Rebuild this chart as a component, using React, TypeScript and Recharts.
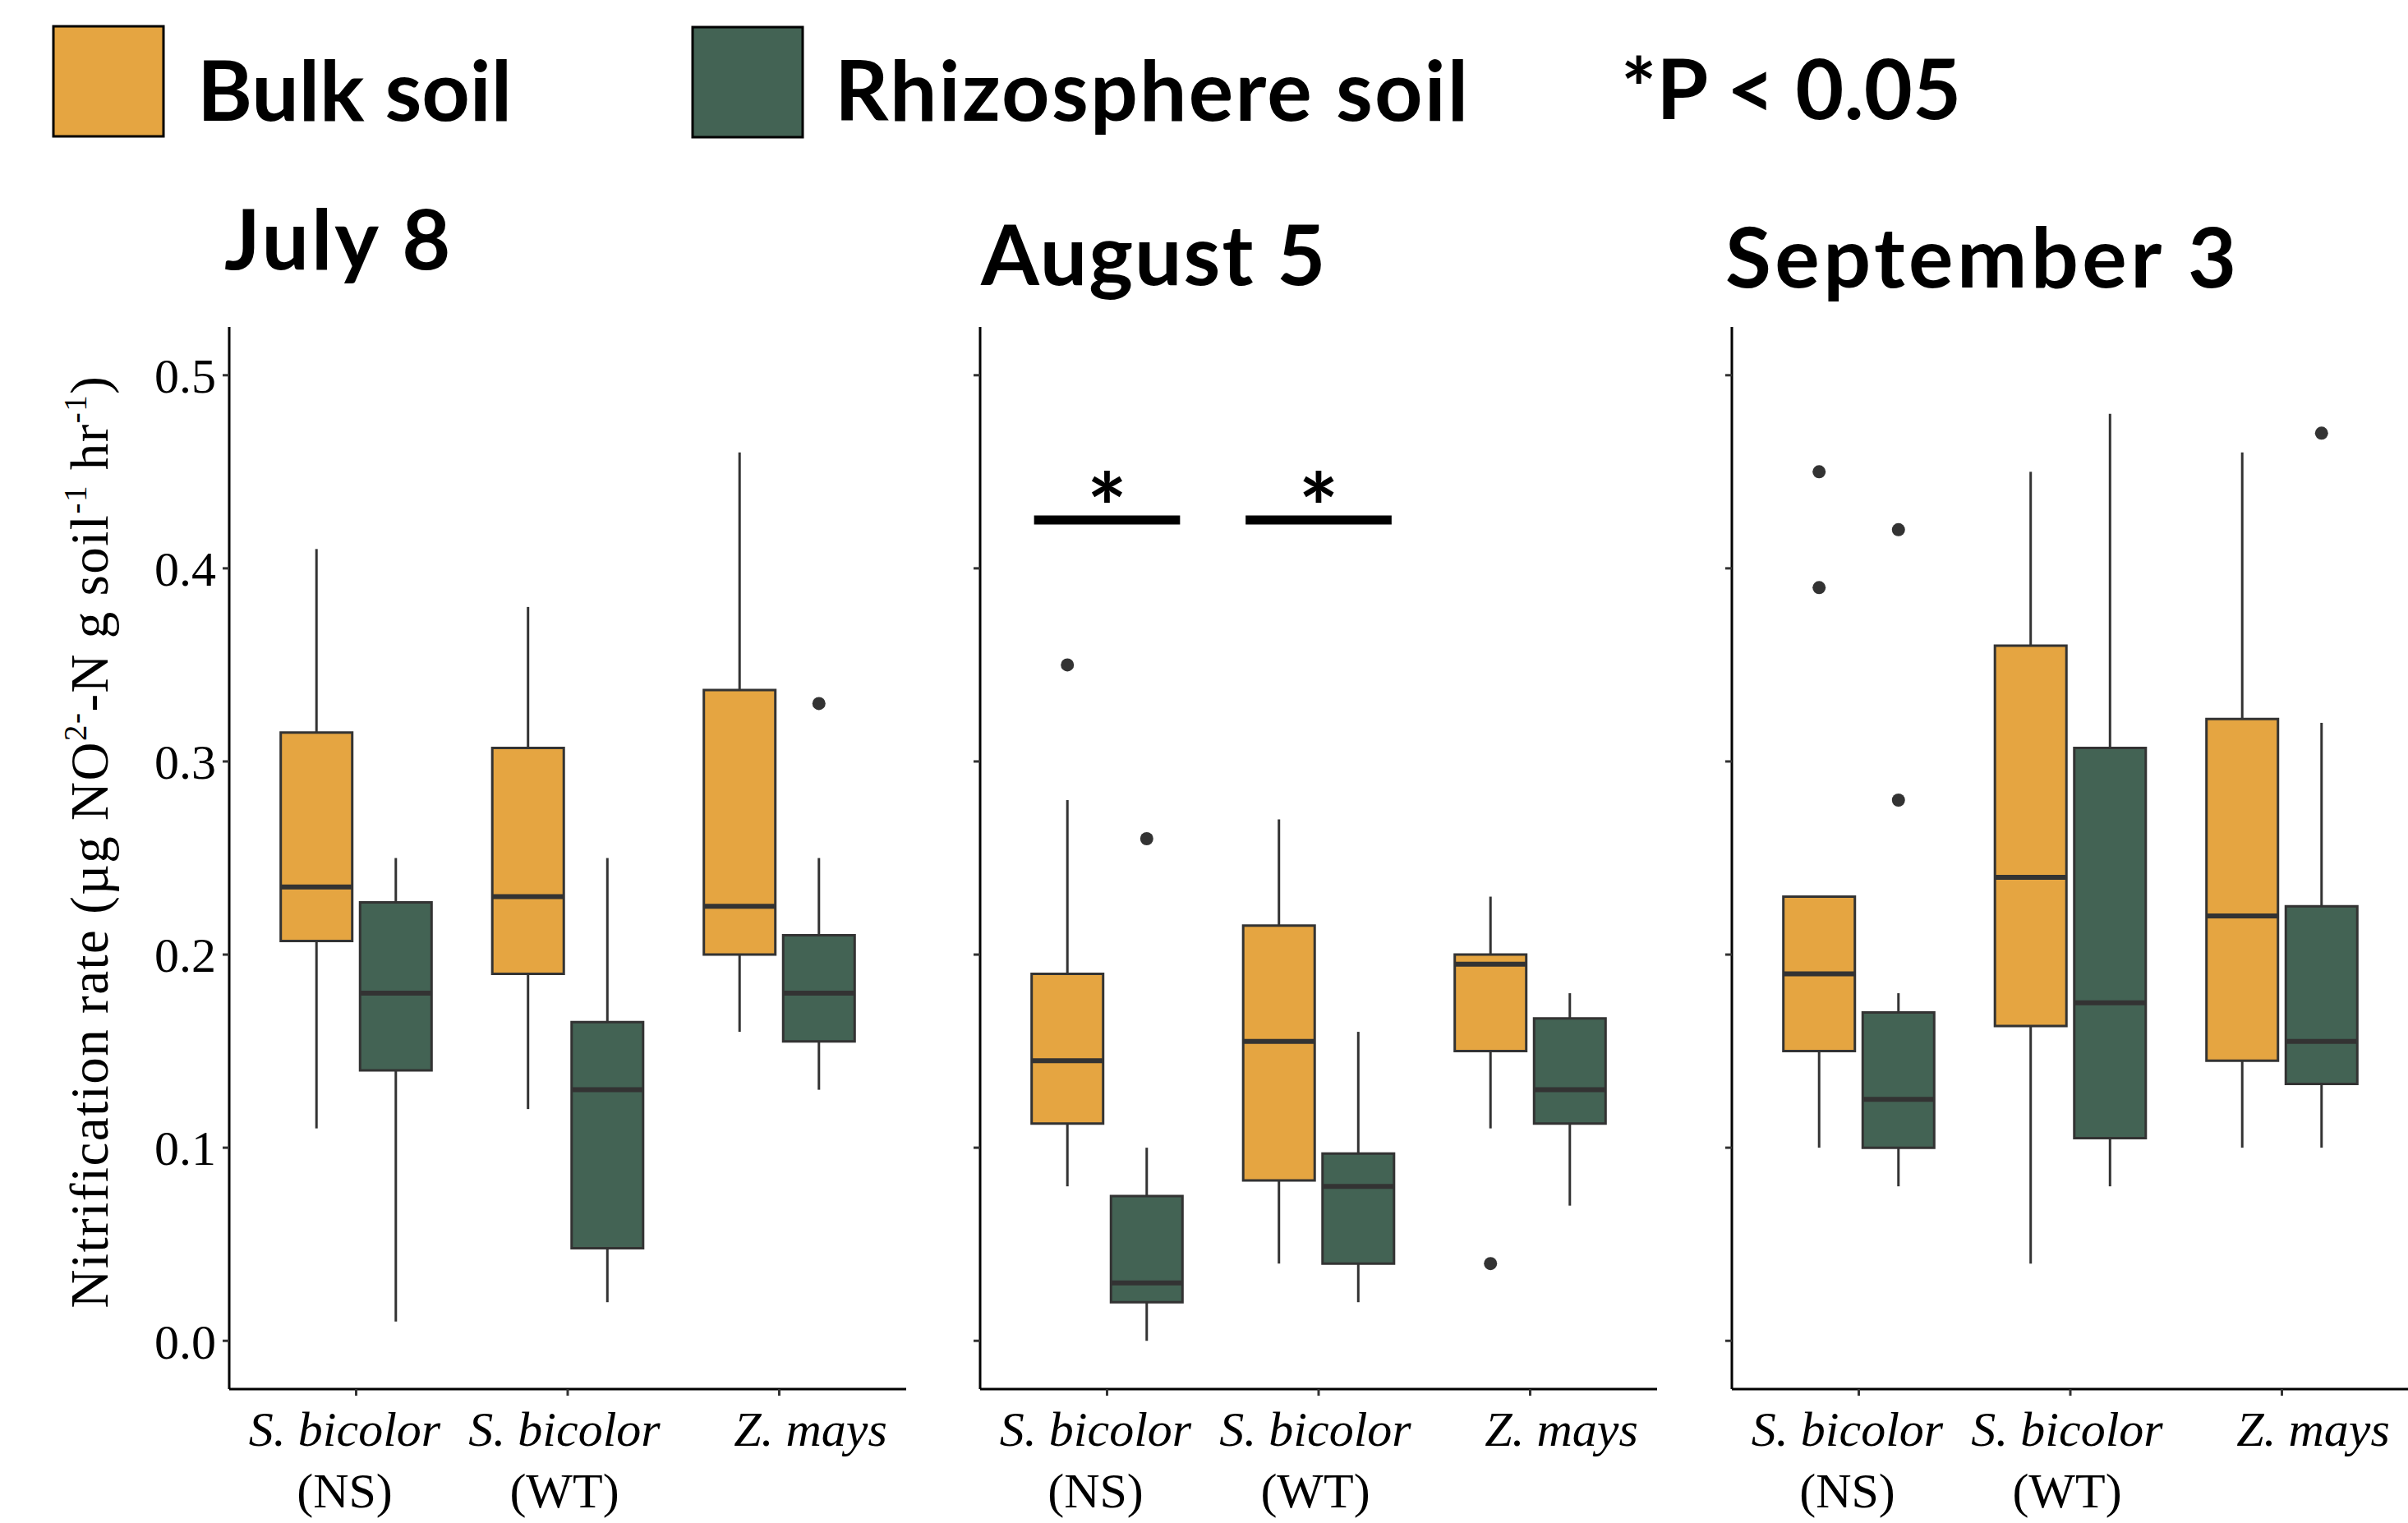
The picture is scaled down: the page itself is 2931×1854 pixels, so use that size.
import React from "react";
import { ComposedChart, XAxis, YAxis, ReferenceArea, ReferenceLine, Scatter } from "recharts";

const dates = ["July 8", "August 5", "September 3"];
const soils = ["Bulk soil", "Rhizosphere soil"];
const speciesNames = ["S. bicolor", "S. bicolor", "Z. mays"];
const genotypeTags = ["(NS)", "(WT)", ""];
const yTicks = [0, 0.1, 0.2, 0.3, 0.4, 0.5];
const genotypeTicks = [1, 2, 3];

// [lower whisker, Q1, median, Q3, upper whisker], one row per genotype
const julyBulk = [
  [0.11, 0.207, 0.235, 0.315, 0.41],
  [0.12, 0.19, 0.23, 0.307, 0.38],
  [0.16, 0.2, 0.225, 0.337, 0.46],
];
const julyRhizo = [
  [0.01, 0.14, 0.18, 0.227, 0.25],
  [0.02, 0.048, 0.13, 0.165, 0.25],
  [0.13, 0.155, 0.18, 0.21, 0.25],
];
const augustBulk = [
  [0.08, 0.1125, 0.145, 0.19, 0.28],
  [0.04, 0.083, 0.155, 0.215, 0.27],
  [0.11, 0.15, 0.195, 0.2, 0.23],
];
const augustRhizo = [
  [0.0, 0.02, 0.03, 0.075, 0.1],
  [0.02, 0.04, 0.08, 0.097, 0.16],
  [0.07, 0.1125, 0.13, 0.167, 0.18],
];
const septemberBulk = [
  [0.1, 0.15, 0.19, 0.23, 0.23],
  [0.04, 0.163, 0.24, 0.36, 0.45],
  [0.1, 0.145, 0.22, 0.322, 0.46],
];
const septemberRhizo = [
  [0.08, 0.1, 0.125, 0.17, 0.18],
  [0.08, 0.105, 0.175, 0.307, 0.48],
  [0.1, 0.133, 0.155, 0.225, 0.32],
];

// outlying points per genotype
const julyBulkOut = [[], [], []];
const julyRhizoOut = [[], [], [0.33]];
const augustBulkOut = [[0.35], [], [0.04]];
const augustRhizoOut = [[0.26], [], []];
const septemberBulkOut = [[0.45, 0.39], [], []];
const septemberRhizoOut = [[0.42, 0.28], [], [0.47]];

// genotypes with P < 0.05 between soils, and bar height
const augustSignificant = [1, 2];
const sigHeight = 0.425;

const panels = [
  { title: dates[0], bulk: julyBulk, rhizo: julyRhizo, bulkOut: julyBulkOut, rhizoOut: julyRhizoOut, sig: [] as number[] },
  { title: dates[1], bulk: augustBulk, rhizo: augustRhizo, bulkOut: augustBulkOut, rhizoOut: augustRhizoOut, sig: augustSignificant },
  { title: dates[2], bulk: septemberBulk, rhizo: septemberRhizo, bulkOut: septemberBulkOut, rhizoOut: septemberRhizoOut, sig: [] as number[] },
];

const FILLS = ["#E5A541", "#436354"];
const INK = "#333333";
const DODGE = 0.1875;
const HALF = 0.169;
const SERIF = "'Liberation Serif', 'Times New Roman', serif";
const BOLD = "Lato, 'Noto Sans', sans-serif";

const PLOT_W = 824;
const PLOT_H = 1293;
const TOP = 378;
const MARGIN_TOP = 20;
const XAXIS_H = 163;
const labelShift = [-14, -4, 38];

function GenotypeTick(props: any) {
  const { x, y, payload } = props;
  const i = genotypeTicks.indexOf(payload.value);
  if (i < 0) return <g />;
  return (
    <g>
      <text x={x + labelShift[i]} y={y + 61} textAnchor="middle" fontFamily={SERIF} fontStyle="italic" fontSize={60} fill="#000">
        {speciesNames[i]}
      </text>
      {genotypeTags[i] && (
        <text x={x + labelShift[i]} y={y + 136} textAnchor="middle" fontFamily={SERIF} fontSize={60} fill="#000">
          {genotypeTags[i]}
        </text>
      )}
    </g>
  );
}

function YTitle(props: any) {
  const vb = props.viewBox || { x: 0, y: 0, width: 0, height: 0 };
  const cx = 131;
  const cy = vb.y + vb.height / 2 - 20;
  return (
    <text
      transform={`rotate(-90, ${cx}, ${cy})`}
      x={cx}
      y={cy}
      textAnchor="middle"
      fontFamily={SERIF}
      fontSize={65}
      letterSpacing={1.5}
      fill="#000"
    >
      Nitrification rate (µg NO
      <tspan dy={-26} fontSize={39}>2-</tspan>
      <tspan dy={26}>-N g soil</tspan>
      <tspan dy={-26} fontSize={39}>-1</tspan>
      <tspan dy={26}> hr</tspan>
      <tspan dy={-26} fontSize={39}>-1</tspan>
      <tspan dy={26}>)</tspan>
    </text>
  );
}

function boxMarks(stats: number[][], soil: number) {
  const els: React.ReactNode[] = [];
  stats.forEach(([lo, q1, , q3, hi], g) => {
    const cx = g + 1 + (soil === 0 ? -DODGE : DODGE);
    els.push(
      <ReferenceLine key={`wu${soil}${g}`} segment={[{ x: cx, y: q3 }, { x: cx, y: hi }]} stroke={INK} strokeWidth={3} />,
      <ReferenceLine key={`wl${soil}${g}`} segment={[{ x: cx, y: lo }, { x: cx, y: q1 }]} stroke={INK} strokeWidth={3} />,
      <ReferenceArea key={`bx${soil}${g}`} x1={cx - HALF} x2={cx + HALF} y1={q1} y2={q3} fill={FILLS[soil]} fillOpacity={1} stroke={INK} strokeWidth={3} />
    );
  });
  stats.forEach(([, , med], g) => {
    const cx = g + 1 + (soil === 0 ? -DODGE : DODGE);
    els.push(
      <ReferenceLine key={`md${soil}${g}`} segment={[{ x: cx - HALF, y: med }, { x: cx + HALF, y: med }]} stroke={INK} strokeWidth={6} />
    );
  });
  return els;
}

function outlierPoints(bulkOut: number[][], rhizoOut: number[][]) {
  const pts: { x: number; y: number }[] = [];
  bulkOut.forEach((vals, g) => vals.forEach((v) => pts.push({ x: g + 1 - DODGE, y: v })));
  rhizoOut.forEach((vals, g) => vals.forEach((v) => pts.push({ x: g + 1 + DODGE, y: v })));
  return pts;
}

function Panel({ index }: { index: number }) {
  const p = panels[index];
  const first = index === 0;
  const yWidth = first ? 279 : 20;
  const plotLefts = [279, 1193, 2108];
  const left = plotLefts[index] - yWidth;
  const stars = p.sig.map((g) => ({ x: g, y: sigHeight }));
  return (
    <div style={{ position: "absolute", left, top: TOP }}>
      <ComposedChart width={yWidth + PLOT_W} height={MARGIN_TOP + PLOT_H + XAXIS_H} margin={{ top: MARGIN_TOP, right: 0, bottom: 0, left: 0 }}>
        <XAxis
          type="number"
          dataKey="x"
          domain={[0.4, 3.6]}
          ticks={genotypeTicks}
          allowDataOverflow
          height={XAXIS_H}
          tickSize={8}
          tickMargin={0}
          axisLine={{ stroke: "#000", strokeWidth: 3 }}
          tickLine={{ stroke: INK, strokeWidth: 3 }}
          tick={<GenotypeTick />}
          interval={0}
        />
        <YAxis
          type="number"
          dataKey="y"
          domain={[-0.025, 0.525]}
          ticks={yTicks}
          allowDataOverflow
          width={yWidth}
          tickSize={8}
          tickMargin={8}
          axisLine={{ stroke: "#000", strokeWidth: 3 }}
          tickLine={{ stroke: INK, strokeWidth: 3 }}
          tick={first ? { fontFamily: SERIF, fontSize: 60, fill: "#000" } : () => <g />}
          tickFormatter={(v: number) => v.toFixed(1)}
          interval={0}
          label={first ? (lp: any) => <YTitle {...lp} /> : undefined}
        />
        {boxMarks(p.bulk, 0)}
        {boxMarks(p.rhizo, 1)}
        {p.sig.map((g) => (
          <ReferenceLine key={`sig${g}`} segment={[{ x: g - 0.345, y: sigHeight }, { x: g + 0.345, y: sigHeight }]} stroke="#000" strokeWidth={11} />
        ))}
        <Scatter
          data={outlierPoints(p.bulkOut, p.rhizoOut)}
          isAnimationActive={false}
          shape={(s: any) => <circle cx={s.cx} cy={s.cy} r={8} fill={INK} />}
        />
        {stars.length > 0 && (
          <Scatter
            data={stars}
            isAnimationActive={false}
            shape={(s: any) => (
              <text x={s.cx} y={s.cy + 27} textAnchor="middle" fontFamily={BOLD} fontWeight={700} fontSize={115} fill="#000">
                *
              </text>
            )}
          />
        )}
      </ComposedChart>
    </div>
  );
}

export default function App() {
  const titleX = [273, 1194, 2100];
  const titleY = [328, 347, 350];
  const titleSpacing = [3, 2, 4.5];
  return (
    <div style={{ position: "absolute", left: 0, top: 0, width: 2931, height: 1854, background: "#fff", overflow: "hidden" }}>
      <svg width={2931} height={380} style={{ position: "absolute", left: 0, top: 0 }}>
        <rect x={65} y={32} width={134} height={134} fill={FILLS[0]} stroke="#000" strokeWidth={3} />
        <text x={240} y={147} fontFamily={BOLD} fontWeight={700} fontSize={102} fill="#000">{soils[0]}</text>
        <rect x={843} y={33} width={134} height={134} fill={FILLS[1]} stroke="#000" strokeWidth={3} />
        <text x={1016} y={147} fontFamily={BOLD} fontWeight={700} fontSize={102} letterSpacing={2.2} fill="#000">{soils[1]}</text>
        <text x={1973} y={145} fontFamily={BOLD} fontWeight={700} fontSize={102} fill="#000">*P &lt; 0.05</text>
        {panels.map((p, i) => (
          <text key={p.title} x={titleX[i]} y={titleY[i]} fontFamily={BOLD} fontWeight={700} fontSize={102} letterSpacing={titleSpacing[i]} fill="#000">
            {p.title}
          </text>
        ))}
      </svg>
      {panels.map((p, i) => (
        <Panel key={p.title} index={i} />
      ))}
    </div>
  );
}
